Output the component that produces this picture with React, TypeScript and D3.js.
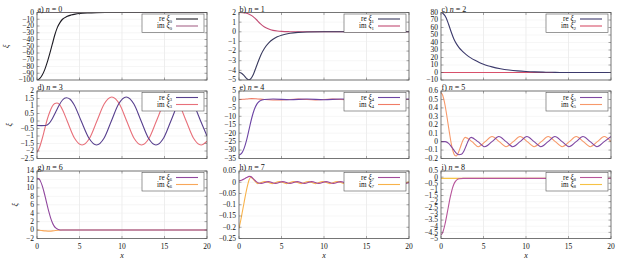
import React from "react";
import * as d3 from "d3";

type P = [number, number];

const xTicks = [0, 5, 10, 15, 20];
const panelLetters = ["a", "b", "c", "d", "e", "f", "g", "h", "i"];
const panelN = [0, 1, 2, 3, 4, 5, 6, 7, 8];

const yDomains: [number, number][] = [
  [-100, 0], [-5, 2], [-10, 80],
  [-2.5, 2], [-35, 5], [-0.2, 0.6],
  [-2, 14], [-0.25, 0.05], [-5, 0.5],
];
const yTicks0 = [0, -10, -20, -30, -40, -50, -60, -70, -80, -90, -100];
const yTicks1 = [2, 1, 0, -1, -2, -3, -4, -5];
const yTicks2 = [80, 70, 60, 50, 40, 30, 20, 10, 0, -10];
const yTicks3 = [2, 1.5, 1, 0.5, 0, -0.5, -1, -1.5, -2, -2.5];
const yTicks4 = [5, 0, -5, -10, -15, -20, -25, -30, -35];
const yTicks5 = [0.6, 0.5, 0.4, 0.3, 0.2, 0.1, 0, -0.1, -0.2];
const yTicks6 = [14, 12, 10, 8, 6, 4, 2, 0, -2];
const yTicks7 = [0.05, 0, -0.05, -0.1, -0.15, -0.2, -0.25];
const yTicks8 = [0.5, 0, -0.5, -1, -1.5, -2, -2.5, -3, -3.5, -4, -4.5, -5];

const re0: P[] = [[0, -100], [0.3, -98], [0.6, -93], [0.9, -85], [1.2, -74], [1.5, -61], [1.8, -47], [2.1, -33], [2.4, -22], [2.7, -15], [3.0, -10], [3.5, -6], [4, -3.8], [4.5, -2.4], [5, -1.5], [6, -0.6], [7, -0.2], [8, -0.05], [10, 0], [20, 0]];
const im0: P[] = [[0, 0], [20, 0]];

const re1: P[] = [[0, -4.2], [0.3, -4.3], [0.6, -4.55], [0.9, -4.85], [1.15, -4.98], [1.4, -4.85], [1.7, -4.4], [2.0, -3.7], [2.3, -3.0], [2.6, -2.35], [3.0, -1.7], [3.5, -1.15], [4, -0.78], [4.5, -0.52], [5, -0.35], [6, -0.15], [7, -0.06], [8, -0.02], [10, 0], [20, 0]];
const im1: P[] = [[0, 2.0], [0.5, 1.98], [1, 1.9], [1.5, 1.68], [2, 1.3], [2.5, 0.85], [3, 0.5], [3.5, 0.28], [4, 0.15], [4.5, 0.08], [5, 0.04], [6, 0.01], [7, 0], [20, 0]];

const re2: P[] = [[0, 80], [0.3, 78], [0.6, 73], [0.9, 64], [1.2, 54], [1.5, 45], [1.8, 38.5], [2.1, 33.5], [2.5, 28.5], [3, 23.5], [3.5, 19.5], [4, 16.2], [4.5, 13.4], [5, 11], [5.5, 9.1], [6, 7.5], [7, 5.1], [8, 3.4], [9, 2.2], [10, 1.4], [11, 0.85], [12, 0.5], [13, 0.25], [14, 0.1], [15, 0], [20, 0]];
const im2: P[] = [[0, 0], [20, 0]];

const re3: P[] = [[0, -0.3], [0.5, -0.31], [1.0, -0.3], [1.4, -0.18], [1.8, 0.15], [2.2, 0.6], [2.6, 1.05], [3.0, 1.4], [3.45, 1.55], [3.9, 1.45], [4.35, 1.1], [5.2, 0], [6.1, -1.13], [7.0, -1.6], [7.9, -1.13], [8.75, 0], [9.6, 1.13], [10.5, 1.6], [11.4, 1.13], [12.25, 0], [13.1, -1.13], [14.0, -1.6], [14.9, -1.13], [15.75, 0], [16.6, 1.13], [17.5, 1.6], [18.4, 1.13], [19.25, 0], [20, -1.0]];
const im3: P[] = [[0, -2.1], [0.3, -1.75], [0.6, -1.2], [0.9, -0.55], [1.2, 0.1], [1.5, 0.6], [1.8, 0.98], [2.1, 1.17], [2.35, 1.2], [2.6, 1.12], [3.0, 0.75], [3.55, 0], [4.4, -1.13], [5.3, -1.6], [6.2, -1.13], [7.05, 0], [7.9, 1.13], [8.8, 1.6], [9.7, 1.13], [10.55, 0], [11.4, -1.13], [12.3, -1.6], [13.2, -1.13], [14.05, 0], [14.9, 1.13], [15.8, 1.6], [16.7, 1.13], [17.55, 0], [18.4, -1.13], [19.3, -1.6], [20, -1.35]];

const re4: P[] = [[0, -33], [0.3, -32], [0.6, -29], [0.9, -24], [1.2, -17.5], [1.5, -11], [1.8, -6], [2.1, -2.8], [2.4, -1.1], [2.7, -0.3], [3.0, 0], [4, 0.3], [6, -0.2], [8, 0.3], [10, -0.2], [12, 0.3], [14, -0.2], [16, 0.3], [18, -0.2], [20, 0.3]];
const im4: P[] = [[0, 0], [0.5, 0.1], [1, 0.3], [1.5, 0.5], [2, 0.4], [3, 0], [5, -0.3], [7, 0.2], [9, -0.3], [11, 0.2], [13, -0.3], [15, 0.2], [17, -0.3], [19, 0.2], [20, 0]];

const re5: P[] = [[0, 0], [0.5, 0], [0.9, -0.02], [1.3, -0.07], [1.7, -0.125], [2.1, -0.155], [2.4, -0.15], [2.7, -0.11], [3.0, -0.04], [3.25, 0.02], [3.55, 0.05], [4.35, 0], [5.15, -0.06], [6.0, 0], [6.8, 0.06], [7.65, 0], [8.45, -0.06], [9.3, 0], [10.1, 0.06], [10.95, 0], [11.75, -0.06], [12.6, 0], [13.4, 0.06], [14.25, 0], [15.05, -0.06], [15.9, 0], [16.7, 0.06], [17.55, 0], [18.35, -0.06], [19.2, 0], [20, 0.06]];
const im5: P[] = [[0, 0.58], [0.2, 0.55], [0.4, 0.47], [0.6, 0.36], [0.8, 0.23], [1.0, 0.1], [1.2, -0.02], [1.4, -0.11], [1.6, -0.16], [1.8, -0.17], [2.0, -0.14], [2.3, -0.06], [2.6, 0.02], [2.85, 0.05], [3.65, 0], [4.4, -0.06], [5.2, 0], [6.0, 0.06], [6.85, 0], [7.65, -0.06], [8.5, 0], [9.3, 0.06], [10.15, 0], [10.95, -0.06], [11.8, 0], [12.6, 0.06], [13.45, 0], [14.25, -0.06], [15.1, 0], [15.9, 0.06], [16.75, 0], [17.55, -0.06], [18.4, 0], [19.2, 0.06], [20, 0]];

const re6: P[] = [[0, 12.3], [0.2, 12.2], [0.4, 11.6], [0.6, 10.6], [0.8, 9.2], [1.0, 7.6], [1.2, 5.9], [1.4, 4.3], [1.6, 2.9], [1.8, 1.8], [2.0, 1.0], [2.2, 0.5], [2.5, 0.15], [3, 0.02], [4, 0], [20, 0]];
const im6: P[] = [[0, 0], [0.5, -0.1], [1, -0.2], [1.5, -0.25], [2, -0.15], [2.5, -0.05], [3, 0], [20, 0]];

const re7: P[] = [[0, 0.006], [0.3, 0.009], [0.6, 0.014], [0.9, 0.021], [1.2, 0.026], [1.4, 0.025], [1.7, 0.015], [2.0, 0.004], [2.3, -0.003], [2.6, -0.005], [3.45, 0.003], [4.3, -0.005], [5.15, 0.003], [6.0, -0.005], [6.85, 0.003], [7.7, -0.005], [8.55, 0.003], [9.4, -0.005], [10.25, 0.003], [11.1, -0.005], [11.95, 0.003], [12.8, -0.005], [13.65, 0.003], [14.5, -0.005], [15.35, 0.003], [16.2, -0.005], [17.05, 0.003], [17.9, -0.005], [18.75, 0.003], [19.6, -0.005], [20, -0.002]];
const im7: P[] = [[0, -0.205], [0.2, -0.17], [0.4, -0.13], [0.6, -0.09], [0.8, -0.05], [1.0, -0.015], [1.2, 0.012], [1.4, 0.022], [1.6, 0.016], [1.9, 0.004], [2.2, -0.006], [3.05, 0.003], [3.9, -0.006], [4.75, 0.003], [5.6, -0.006], [6.45, 0.003], [7.3, -0.006], [8.15, 0.003], [9.0, -0.006], [9.85, 0.003], [10.7, -0.006], [11.55, 0.003], [12.4, -0.006], [13.25, 0.003], [14.1, -0.006], [14.95, 0.003], [15.8, -0.006], [16.65, 0.003], [17.5, -0.006], [18.35, 0.003], [19.2, -0.006], [20, 0.002]];

const re8: P[] = [[0, -4.7], [0.15, -4.6], [0.3, -4.3], [0.45, -3.9], [0.6, -3.4], [0.75, -2.85], [0.9, -2.3], [1.05, -1.75], [1.2, -1.3], [1.35, -0.9], [1.5, -0.6], [1.7, -0.35], [1.9, -0.2], [2.2, -0.13], [2.6, -0.1], [20, -0.1]];
const im8: P[] = [[0, -0.1], [20, -0.1]];

const reSeries = [re0, re1, re2, re3, re4, re5, re6, re7, re8];
const imSeries = [im0, im1, im2, im3, im4, im5, im6, im7, im8];
const yTickSets = [yTicks0, yTicks1, yTicks2, yTicks3, yTicks4, yTicks5, yTicks6, yTicks7, yTicks8];

const reColors = ["#1c1a22", "#393a5e", "#3c3a6c", "#573f8e", "#6c44a4", "#7f47a2", "#90479e", "#a2499b", "#b7549a"];
const imColors = ["#a8668a", "#c24c74", "#d8516b", "#e8707a", "#f07c66", "#f7996a", "#f8a75a", "#f8b24a", "#f6c245"];

const W = 623;
const H = 260;
const colLeft = [37, 239, 441];
const rowTop = [12.5, 91, 171];
const plotW = 170;
const plotH = 67.5;
const yLabelX = [7, 9.5, 16];
const FONT = "'Liberation Serif', 'DejaVu Serif', serif";

function fmt(v: number): string {
  const s = String(Math.round(v * 1000) / 1000);
  return s.replace("-", "\u2212");
}

function Panel({ idx }: { idx: number }) {
  const row = Math.floor(idx / 3);
  const col = idx % 3;
  const left = colLeft[col];
  const top = rowTop[row];
  const x = d3.scaleLinear().domain([0, 20]).range([left, left + plotW]);
  const y = d3.scaleLinear().domain(yDomains[idx]).range([top + plotH, top]);
  const line = d3
    .line<P>()
    .x((d) => x(d[0]))
    .y((d) => y(d[1]))
    .curve(d3.curveMonotoneX);
  const yT = yTickSets[idx];
  const clipId = `clip${idx}`;
  const right = left + plotW;
  const bottom = top + plotH;
  const lgL = right - 65;
  const lgT = top + 1.5;
  const n = panelN[idx];
  return (
    <g>
      <defs>
        <clipPath id={clipId}>
          <rect x={left} y={top} width={plotW} height={plotH} />
        </clipPath>
      </defs>
      <rect x={left} y={top} width={plotW} height={plotH} fill="#fff" />
      {xTicks.slice(1, -1).map((t) => (
        <line key={"gx" + t} x1={x(t)} x2={x(t)} y1={top} y2={bottom} stroke="#e3e3e3" strokeWidth={0.6} />
      ))}
      {yT.map((t) => (
        <line key={"gy" + t} x1={left} x2={right} y1={y(t)} y2={y(t)} stroke="#ececec" strokeWidth={0.5} />
      ))}
      <g clipPath={`url(#${clipId})`}>
        <path d={line(imSeries[idx]) || ""} fill="none" stroke={imColors[idx]} strokeWidth={1.1} />
        <path d={line(reSeries[idx]) || ""} fill="none" stroke={reColors[idx]} strokeWidth={1.1} />
      </g>
      {xTicks.map((t) => (
        <g key={"tx" + t}>
          <line x1={x(t)} x2={x(t)} y1={bottom} y2={bottom - 2.5} stroke="#555" strokeWidth={0.5} />
          <line x1={x(t)} x2={x(t)} y1={top} y2={top + 2.5} stroke="#555" strokeWidth={0.5} />
        </g>
      ))}
      {yT.map((t) => (
        <g key={"ty" + t}>
          <line x1={left} x2={left + 2.5} y1={y(t)} y2={y(t)} stroke="#555" strokeWidth={0.5} />
          <line x1={right} x2={right - 2.5} y1={y(t)} y2={y(t)} stroke="#555" strokeWidth={0.5} />
          <text x={left - 3} y={y(t)} dy="0.32em" textAnchor="end" fontSize={7.5} fontFamily={FONT} fill="#111">
            {fmt(t)}
          </text>
        </g>
      ))}
      <rect x={left} y={top} width={plotW} height={plotH} fill="none" stroke="#555" strokeWidth={0.8} />
      {/* legend */}
      <rect x={lgL} y={lgT} width={62} height={18.5} fill="#fff" stroke="#555" strokeWidth={0.6} />
      <text x={right - 35} y={top + 8.5} textAnchor="end" fontSize={7.2} fontFamily={FONT} fill="#111">
        <tspan>re </tspan>
        <tspan fontStyle="italic">ξ</tspan>
        <tspan fontSize={5} dy={1.5}>{n}</tspan>
      </text>
      <text x={right - 35} y={top + 15.5} textAnchor="end" fontSize={7.2} fontFamily={FONT} fill="#111">
        <tspan>im </tspan>
        <tspan fontStyle="italic">ξ</tspan>
        <tspan fontSize={5} dy={1.5}>{n}</tspan>
      </text>
      <line x1={right - 31} x2={right - 9} y1={top + 6.5} y2={top + 6.5} stroke={reColors[idx]} strokeWidth={1.1} />
      <line x1={right - 31} x2={right - 9} y1={top + 13.5} y2={top + 13.5} stroke={imColors[idx]} strokeWidth={1.1} />
      {/* title */}
      <text x={left + 0.5} y={top - 0.6} fontSize={8} fontFamily={FONT} fill="#111">
        <tspan>{panelLetters[idx]}) </tspan>
        <tspan fontStyle="italic">n</tspan>
        <tspan> = {n}</tspan>
      </text>
      {row === 2 &&
        xTicks.map((t) => (
          <text key={"xl" + t} x={x(t)} y={bottom + 10} textAnchor="middle" fontSize={7.5} fontFamily={FONT} fill="#111">
            {fmt(t)}
          </text>
        ))}
      {row === 2 && (
        <text x={left + plotW / 2} y={bottom + 19} textAnchor="middle" fontSize={8} fontStyle="italic" fontFamily={FONT} fill="#111">
          x
        </text>
      )}
      {col === 0 && (
        <text
          transform={`translate(${yLabelX[row]},${top + plotH / 2}) rotate(-90)`}
          textAnchor="middle"
          dy="0.3em"
          fontSize={8}
          fontStyle="italic"
          fontFamily={FONT}
          fill="#111"
        >
          ξ
        </text>
      )}
    </g>
  );
}

export default function App() {
  return (
    <svg width={W} height={H} style={{ position: "absolute", left: 0, top: 0, background: "#fff" }}>
      <rect x={0} y={0} width={W} height={H} fill="#fff" />
      {panelN.map((_, i) => (
        <Panel key={i} idx={i} />
      ))}
    </svg>
  );
}
